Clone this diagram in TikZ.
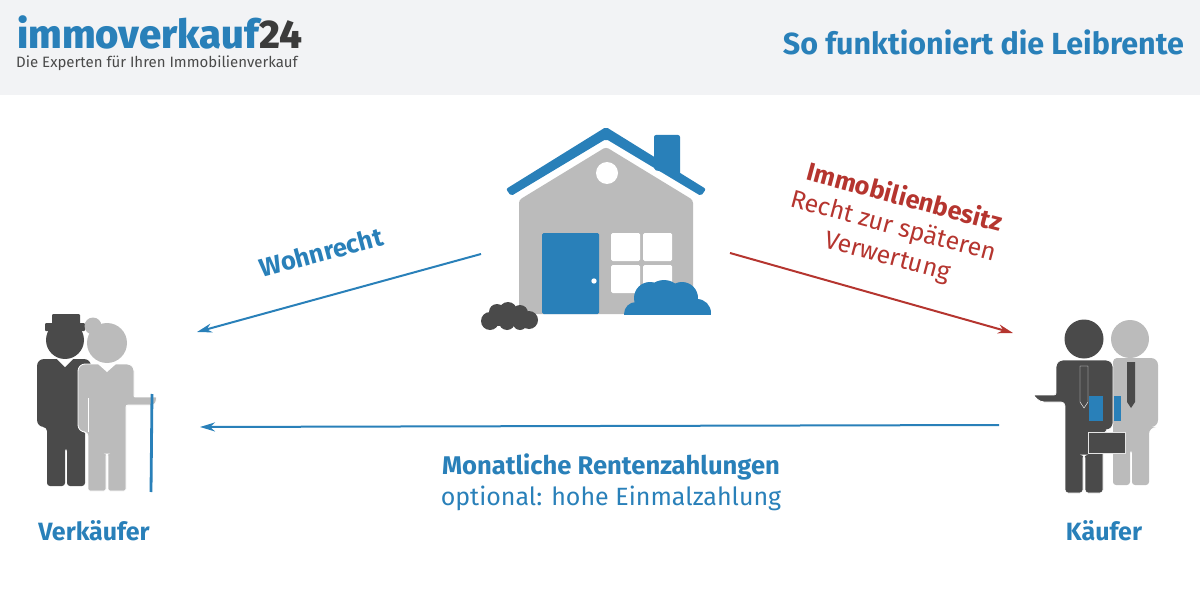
\documentclass[tikz,border=0pt]{standalone}
\usepackage{fontspec}
\setmainfont{Fira Sans}
\newfontfamily\logofont{Fira Sans ExtraBold}
\usetikzlibrary{arrows.meta}
\definecolor{myblue}{HTML}{2980B9}
\definecolor{myred}{HTML}{B5352F}
\definecolor{mydark}{HTML}{4A4A4A}
\definecolor{mygrey}{HTML}{BBBBBB}
\definecolor{myhead}{HTML}{F2F3F5}
\begin{document}
\begin{tikzpicture}[
		x=1pt, y=-1pt,
		link/.style ={ line width=2pt, -{Stealth[length=15pt,width=9pt]} },
		label/.style ={ font=\fontsize{25}{30}\selectfont, align=center, inner sep=0pt },
		labelbf/.style ={ label, font=\fontsize{25.6}{30}\selectfont\bfseries },
		dark/.style ={ fill=mydark, rounded corners=4pt },
		light/.style ={ fill=mygrey, rounded corners=4pt },
		edge/.style ={ draw=white, line width=0.8pt },
		pane/.style ={ fill=white, rounded corners=1.5pt },
	]
	
	\useasboundingbox (0,0) rectangle (1200,607);
	
	% draw header
	\fill [myhead] (0,0) rectangle (1200,95);
	\node [anchor=base west, inner sep=0pt, text=myblue] (logo) at (17,49)
		{\fontsize{40}{40}\logofont immoverkauf};
	\node [anchor=base west, inner sep=0pt, text=mydark!80!black] (logo_nr) at (logo.base east)
		{\fontsize{40}{40}\logofont 24};
	\node [anchor=base west, inner sep=0pt, text=mydark] (slogan) at (16,68)
		{\fontsize{15}{18}\selectfont Die Experten für Ihren Immobilienverkauf};
	\node [anchor=base east, inner sep=0pt, text=myblue] (title) at (1184,55)
		{\fontsize{30.5}{32}\selectfont\bfseries So funktioniert die Leibrente};
	
	% draw house
	\fill [mygrey, rounded corners=3pt] (519,314) -- (519,200) -- (606,147) -- (693,200) -- (693,314) -- cycle;
	\fill [myblue, rounded corners=2pt] (654,170) -- (654,135) -- (680,135) -- (680,175) -- cycle;
	\fill [myblue, rounded corners=2pt] (506,189) -- (606,127) -- (706,189) -- (701,196) -- (606,139) -- (511,196) -- cycle;
	\fill [white] (607,173) circle (11);
	\fill [myblue, rounded corners=1.5pt] (542,314) -- (542,233) -- (599,233) -- (599,314) -- cycle;
	\fill [white] (594,281) circle (2.7);
	\foreach \x/\y in {611/233, 643/233, 611/265, 643/265}
		\fill [pane] (\x,\y) rectangle ++(29,28);
	
	% draw bushes
	\begin{scope}
		\clip (600,270) rectangle (720,314.5);
		\foreach \x/\y/\r in {636/314/12, 650/298/16, 664/299/19, 682/298/16, 697/313/14}
			\fill [myblue] (\x,\y) circle (\r);
		\fill [myblue] (636,302) rectangle (698,315);
	\end{scope}
	\foreach \x/\y/\r in {497/312/8, 508/311/9, 520/313/8, 529/320/9, 490/321/9, 507/322/8, 520/323/7}
		\fill [mydark] (\x,\y) circle (\r);
	\fill [mydark] (492,312) rectangle (526,326);
	
	% draw seller couple
	\fill [mydark] (65,340) circle (19);
	\fill [mydark, rounded corners=1pt] (45,323) rectangle (85,331);
	\fill [mydark, rounded corners=1pt] (52,314) rectangle (80,324);
	\fill [dark] (47,486) -- (47,427) [rounded corners=7pt] -- (37,427) -- (37,359) -- (91,359) -- (91,400) [rounded corners=3pt] -- (85,420) -- (85,486) -- (67,486) -- (67,448) -- (65,448) -- (65,486) -- cycle;
	\fill [white] (57,359) -- (73,359) -- (65,367) -- cycle;
	\fill [mygrey] (93,326) circle (8.5);
	\fill [mygrey] (107,343) circle (20);
	\filldraw [light, edge] (88,491) -- (88,432) [rounded corners=7pt] -- (78,432) -- (78,364) -- (134,364) [rounded corners=1pt] -- (134,397) -- (157,397) [rounded corners=2pt] -- (155,405) -- (126,405) -- (126,491) -- (108,491) -- (108,454) -- (106,454) -- (106,491) -- cycle;
	\fill [white] (98,364) -- (116,364) -- (107,372) -- cycle;
	\draw [white, line width=0.6pt] (88,398) -- (88,432);
	\draw [myblue, line width=2.8pt] (152,394) -- (151,492);
	
	% draw buyer couple
	\fill [mygrey] (1130,339) circle (19);
	\fill [light] (1113,485) -- (1113,358) [rounded corners=7pt] -- (1158,358) -- (1158,427) -- (1149,427) [rounded corners=3pt] -- (1149,485) -- (1132,485) -- (1132,450) -- (1130,450) -- (1130,485) -- cycle;
	\fill [myblue] (1114,396) rectangle (1121,421);
	\fill [mydark] (1127,362) -- (1135,362) -- (1135,402) -- (1131,408) -- (1127,402) -- cycle;
	\fill [mydark] (1084,339) circle (19.5);
	\filldraw [dark, edge] (1065,493) -- (1065,402) -- (1040,402) [rounded corners=2pt] -- (1033,395) -- (1056,395) [rounded corners=7pt] -- (1056,360) -- (1113,360) -- (1113,430) -- (1103,430) [rounded corners=3pt] -- (1103,493) -- (1085,493) -- (1085,455) -- (1083,455) -- (1083,493) -- cycle;
	\filldraw [fill=mydark, draw=white, line width=0.4pt] (1080,366) -- (1088,366) -- (1088,402) -- (1084,408) -- (1080,402) -- cycle;
	\fill [myblue] (1089,396) rectangle (1103,421);
	\filldraw [fill=mydark, draw=white!80!gray, line width=0.8pt] (1088,432) rectangle (1125,453);
	
	% draw labels
	\node [labelbf, text=myblue, font=\fontsize{25}{30}\selectfont\bfseries] (seller) at (94,531) {Verkäufer};
	\node [labelbf, text=myblue, font=\fontsize{25}{30}\selectfont\bfseries] (buyer) at (1104,531) {Käufer};
	\node [labelbf, text=myblue, rotate=15] (right) at (321,252) {Wohnrecht};
	\node [labelbf, text=myred, rotate=-15, font=\fontsize{25.4}{30}\selectfont\bfseries] (owner) at (905,196) {Immobilienbesitz};
	\node [label, text=myred, rotate=-15] (owner_a) at (893,227) {Recht zur späteren};
	\node [label, text=myred, rotate=-15] (owner_b) at (887,258) {Verwertung};
	\node [labelbf, text=myblue] (pay) at (611,467) {Monatliche Rentenzahlungen};
	\node [label, text=myblue] (pay_b) at (611,498) {optional: hohe Einmalzahlung};
	
	% draw connectors
	\coordinate (house_w) at (481,254);
	\coordinate (house_e) at (730,253);
	\coordinate (seller_n) at (197,332);
	\coordinate (seller_e) at (200,427);
	\coordinate (buyer_n) at (1013,333);
	\coordinate (buyer_w) at (999,425);
	\draw [link, myblue] (house_w) -- (seller_n);
	\draw [link, myred] (house_e) -- (buyer_n);
	\draw [link, myblue] (buyer_w) -- (seller_e);
	
\end{tikzpicture}
\end{document}
